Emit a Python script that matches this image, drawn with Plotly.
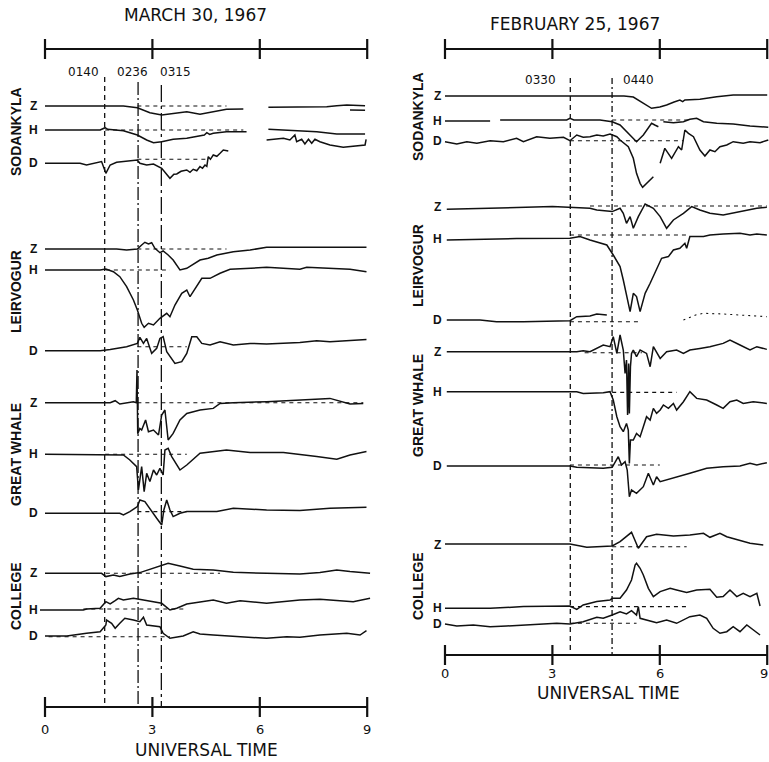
import plotly.graph_objects as go

# ------------------------------------------------------------------
# DATA  (hours UT, deflection in plot units; + = upward on the record)
# ------------------------------------------------------------------
TICK_HOURS = [0, 3, 6, 9]
TICK_LABELS = ["0", "3", "6", "9"]

MAR_TITLE = "MARCH 30, 1967"
FEB_TITLE = "FEBRUARY 25, 1967"
AXIS_TITLE = "UNIVERSAL TIME"

STATIONS = ["SODANKYLA", "LEIRVOGUR", "GREAT WHALE", "COLLEGE"]
COMPONENTS = ["Z", "H", "D"]

MAR_EVENT_T = [1.667, 2.6, 3.25]
MAR_EVENT_LABEL = ["0140", "0236", "0315"]
FEB_EVENT_T = [3.5, 4.667]
FEB_EVENT_LABEL = ["0330", "0440"]

# ---- March 30, 1967 ----
MAR_SOD_Z_T = [0, 2.19, 2.58, 2.93, 3.26, 3.58, 3.96, 4.33, 4.70, 5.07, 5.54, None, 6.24, 7.0, 7.87, 8.15, 8.43, 8.94, None, 8.52, 8.94]
MAR_SOD_Z_V = [0, 0, -1.7, -6.7, -9, -7.3, -5.7, -8.3, -5.7, -3.3, -3, None, -1.3, -1.0, -0.7, 0.3, 1.0, 0.3, None, -4, -4.3]
MAR_SOD_H_T = [0, 1.54, 1.68, 1.75, 2.19, 2.58, 2.84, 3.03, 3.26, 3.58, 3.96, 4.33, 4.45, 4.52, 4.60, 4.70, 5.07, 5.63, None, 6.24, 6.66, 7.12, 7.59, 8.15, 8.94]
MAR_SOD_H_V = [0, 0, 2.3, 0.7, -0.7, -5, -10, -12.7, -11.7, -9.3, -8.3, -6, -5, -2.7, -4.5, -3.3, -1.7, -1.7, None, 0.7, 0, -1, -1.7, -4, -4]
MAR_SOD_D_T = [0, 0.98, 1.16, 1.35, 1.58, 1.70, 1.82, 2.0, 2.47, 2.58, 2.65, 2.84, 3.03, 3.26, 3.49, 3.60, 3.68, 3.80, 3.96, 4.05,
               4.14, 4.24, 4.33, 4.40, 4.47, 4.52, 4.56, 4.62, 4.70, 4.80, 4.89, 4.98, 5.12, None,
               6.19, 6.38, 6.66, 6.84, 6.98, 7.03, 7.17, 7.26, 7.36, 7.45, 7.54, 7.68, 7.96, 8.33, 8.71, 8.94, 8.97]
MAR_SOD_D_V = [0, 0, -1.7, 0, 1.7, -10, -1.7, 1, 2.3, 3.3, 0, -1.7, -0.7, -5, -15, -11, -10.7, -8, -6.7, -9,
               -6, -7.5, -3.3, -5, -1.7, -3, 6.7, 4, 8.3, 7, 10, 13.3, 12.3, None,
               23.3, 24, 25, 23.3, 28.3, 21.6, 24, 19.3, 24, 20, 24, 21.6, 18.3, 16, 17.3, 18.3, 24]

MAR_LEI_Z_T = [0, 2.0, 2.28, 2.58, 2.70, 2.79, 2.89, 2.98, 3.07, 3.21, 3.30, 3.44, 3.58, 3.77, 3.96, 4.10, 4.33, 4.56, 4.80, 5.26, 5.73, 6.19, 7.12, 8.98]
MAR_LEI_Z_V = [0, 0, -1, 0, 4, 6.7, 5, 6.3, 0.7, -3.7, -2, -6, -11, -21, -19.3, -16, -11, -9.3, -6, -2.7, -1, 1.7, 1.7, 1.7]
MAR_LEI_H_T = [0, 1.54, 1.70, 1.91, 2.09, 2.28, 2.47, 2.58, 2.70, 2.77, 2.89, 3.03, 3.21, 3.40, 3.49, 3.63, 3.82, 3.96, 4.05, 4.19,
               4.38, 4.61, 4.89, 5.17, 5.73, 6.19, 7.12, 7.31, 8.52, 8.98]
MAR_LEI_H_V = [0, 0, 1, -1.7, -6.7, -16.7, -30, -40, -53.3, -57.3, -53.3, -55, -48.3, -43.3, -46.7, -35, -23.3, -20, -26.7, -18.3,
               -8.3, -8.3, -3.3, 0.7, 1.7, 2.7, 0.7, 2.7, 0.7, -1.7]
MAR_LEI_D_T = [0, 1.54, 1.82, 2.28, 2.58, 2.65, 2.75, 2.84, 2.98, 3.12, 3.21, 3.30, 3.40, 3.49, 3.63, 3.82, 3.96, 4.10, 4.24, 4.38,
               4.61, 4.89, 5.26, 5.73, 6.19, 7.12, 7.59, 7.96, 8.98]
MAR_LEI_D_V = [0, 0, 1.3, 4, 7.3, 13.3, 7.3, 12.3, -2.7, 2.3, 12.3, 14, -1, -6, -12.7, -11, -2.7, 14, 14, 7.3,
               5.7, 9, 5.7, 7.3, 6.7, 8.3, 10, 9, 11.3]

MAR_GW_Z_T = [0, 1.82, 1.96, 2.09, 2.47, 2.55, 2.57, 2.59, 2.65, 2.70, 2.81, 2.89, 3.03, 3.17, 3.26, 3.35, 3.44, 3.58, 3.77, 3.96,
              4.33, 4.70, 4.89, 5.26, 6.19, 7.12, 7.96, 8.52, 8.89]
MAR_GW_Z_V = [0, 0, 2, -1.3, 1, 0, 32.7, -31, -25.7, -27.3, -17.3, -29, -27.3, -32.3, -12.3, -7.3, -37.3, -30.7, -17.3, -10.7,
              -7.3, -5.7, -0.7, 0, 1, 2.7, 4.3, -1.3, -0.7]
MAR_GW_H_T = [0, 1.91, 2.19, 2.37, 2.56, 2.61, 2.70, 2.77, 2.84, 2.93, 3.03, 3.12, 3.21, 3.30, 3.35, 3.44, 3.54, 3.77, 3.96, 4.33,
              5.07, 5.73, 6.66, 7.59, 8.15, 8.52, 8.98]
MAR_GW_H_V = [0, 0, -0.7, -5.7, -12.3, -35.7, -12.3, -37.3, -19, -27.3, -15.7, -20.7, -14, -20.7, 4.3, 6, -2.3, -15.7, -10.7, 1,
              4.3, 1.7, 1.7, -2.3, -5, -0.7, 2.7]
MAR_GW_D_T = [0, 2.09, 2.19, 2.37, 2.58, 2.65, 2.79, 2.98, 3.12, 3.26, 3.32, 3.40, 3.49, 3.58, 3.77, 3.96, 4.33, 4.80, 5.26, 6.19,
              7.12, 7.96, 8.98]
MAR_GW_D_V = [0, 0, -1.7, 1.7, 6.7, 13.3, 11.7, 1.7, -5, -11.7, 3.3, 13.3, 3.3, -3.3, 0, 1.7, 1.7, 1.7, 5, 3.3,
              2.7, 5, 6]

MAR_COL_Z_T = [0, 1.58, 1.70, 1.91, 2.09, 2.37, 2.65, 3.03, 3.44, 3.77, 4.14, 4.70, 5.26, 6.19, 7.12, 7.68, 8.15, 8.52, 9.08]
MAR_COL_Z_V = [0, 0, -3.3, -1.7, -3.3, -0.7, 0.7, 5, 10, 7.3, 4, 3.3, 1, 0, -0.7, 0.7, 3.3, 1.7, 0]
MAR_COL_H_T = [-0.14, 1.07, 1.16, 1.54, 1.70, 1.82, 1.96, 2.05, 2.19, 2.47, 2.75, 3.03, 3.26, 3.49, 3.68, 3.96, 4.33, 4.70, 5.07, 5.45,
               6.19, 7.12, 7.68, 8.61, 9.08]
MAR_COL_H_V = [0, 0, 1, 1.7, 8.3, 6, 9.3, 11.7, 10, 11.7, 10, 8.3, 6.7, 0, 1.7, 6, 8.3, 10, 6.7, 9.3,
               6.7, 10, 10.7, 8.3, 11.7]
MAR_COL_D_T = [0, 0.61, 1.16, 1.54, 1.70, 1.72, 1.86, 1.96, 2.09, 2.23, 2.47, 2.65, 2.75, 2.84, 3.21, 3.30, 3.49, 3.86, 4.14, 4.33,
               4.70, 5.26, 6.01, 6.19, 6.75, 7.12, 7.68, 8.43, 8.80, 8.98]
MAR_COL_D_V = [0, 0, 2.7, 4.3, 11, 16, 12.7, 7.7, 12.7, 17.7, 16, 14.3, 18.7, 11, 9.3, 2.7, -2.3, 0, 4.3, 2,
               1, 0, -1.3, -2.3, -0.7, -1.3, 1, 2.7, 1, 5.3]

# reference (quiet-level) dashes: station, component, t0, t1, level
MAR_REF_STATION = ["SODANKYLA", "SODANKYLA", "SODANKYLA", "LEIRVOGUR", "LEIRVOGUR", "LEIRVOGUR",
                   "GREAT WHALE", "GREAT WHALE", "GREAT WHALE", "COLLEGE", "COLLEGE", "COLLEGE"]
MAR_REF_COMP = ["Z", "H", "D", "Z", "H", "D", "Z", "H", "D", "Z", "H", "D"]
MAR_REF_T0 = [2.58, 1.68, 2.58, 2.58, 1.70, 2.58, 2.58, 1.68, 2.58, 1.70, 1.07, 0.1]
MAR_REF_T1 = [5.07, 5.54, 4.52, 5.07, 3.49, 3.96, 8.89, 3.96, 3.96, 4.89, 3.96, 3.49]
MAR_REF_V = [0, 0, 4, 0, 0, 4, 0, 0, 1.7, 0, 1, -0.7]

# ---- February 25, 1967 ----
FEB_SOD_Z_T = [0, 4.5, 5.0, 5.26, 5.45, 5.77, 6.0, 6.19, 6.4, 6.56, 6.64, 6.7, 7.12, 7.59, 8.05, 9.0]
FEB_SOD_Z_V = [0, 0, 0, -1, -5, -12.3, -11, -9, -6, -4, -5.7, -4, -3.3, -0.7, 1, 1]
FEB_SOD_H_T = [0, 1.26, None, 1.54, 3.40, 3.49, 3.60, 4.33, 4.67, 4.89, 5.17, 5.35, 5.54, 5.77, 5.86, 5.96, None,
               6.10, 6.38, 6.66, 6.84, 7.03, 7.22, 7.59, 8.05, 8.52, 9.03]
FEB_SOD_H_V = [0, 0, None, 1, 1, 2.7, 1, 1, -0.7, -4, -14, -20.7, -14, -2.3, -4, -5.7, None,
               -0.7, -1.7, -0.7, 1.7, 2.7, -0.7, -2.3, -3, -5, -6.3]
FEB_SOD_D_T = [0, 0.33, 0.61, 0.89, 1.26, 1.63, 2.0, 2.19, 2.56, 2.93, 3.31, 3.49, 3.68, 3.86, 4.05, 4.24, 4.42, 4.61, 4.80, 4.89,
               5.12, 5.26, 5.35, 5.45, 5.52, 5.63, 5.82, None, 6.01, 6.14, 6.33, 6.52, 6.61, 6.70, 6.80, 6.94, 7.12, 7.26, 7.40, 7.54,
               7.68, 7.87, 8.05, 8.33, 8.52, 8.80, 9.03]
FEB_SOD_D_V = [-0.7, -3, -0.7, -2.3, 0.3, -0.7, 2.7, -0.7, 4.3, 2.7, 3.7, 0.3, 6, 3.7, 4.3, 6, 5, 7, 4.3, 1,
               -5.7, -17.3, -32.3, -42.3, -46.3, -42.3, -35.7, None, -22.3, -7.3, -17.3, -5.7, -9, 11, 7.7, 4.3, -9, -15, -9, -10.7,
               -5.7, -4, -0.7, -2.3, -0.7, -1.7, 1]

FEB_LEI_Z_T = [0.05, 1.5, 3.0, 4.05, 4.24, 4.67, 4.89, 4.98, 5.07, 5.17, 5.26, 5.40, 5.59, 5.82, 6.01, 6.19, 6.38, 6.66, 6.89, 7.12,
               7.40, 7.77, 8.24, 8.71, 8.99]
FEB_LEI_Z_V = [-2, -0.7, 0.7, -1, -2.7, -4.3, -1, -6, -16, -9.3, -21, -9.3, 3.3, -1, -9.3, -21, -12.7, -6, 0.7, -2.7,
               -6, -7.7, -4.3, -1, 0]
FEB_LEI_H_T = [0.05, 2.0, 3.49, 3.77, 4.05, 4.33, 4.52, 4.70, 4.89, 4.98, 5.07, 5.17, 5.26, 5.35, 5.45, 5.59, 5.73, 5.91, 6.05, 6.24,
               6.38, 6.56, 6.70, 6.75, 6.84, 7.22, 7.40, 7.77, 8.24, 8.52, 8.71, 8.99]
FEB_LEI_H_V = [-0.7, 0.7, 1, 2.7, -0.7, -4, -5.7, -15.7, -27.3, -40.7, -57.3, -72.3, -54, -57.3, -72.3, -54, -44, -30.7, -19, -17.3,
               -10.7, -9, -4, -9, 2.7, 2.7, 4.3, 5.3, 6, 4.3, 5.3, 4.3]
FEB_LEI_D_T = [0.05, 0.98, 1.44, 2.19, 3.49, 3.68, 4.05, 4.24, 4.52]
FEB_LEI_D_V = [0, 0, -1.7, -1.7, -0.7, 3.3, 4, 6, 5]
FEB_LEI_D2_T = [6.66, 7.0, 7.22, 7.77, 8.99]          # faint dotted continuation
FEB_LEI_D2_V = [0, 5, 6.7, 6, 3.3]

FEB_GW_Z_T = [0.05, 3.68, 3.86, 4.05, 4.42, 4.61, 4.70, 4.80, 4.89, 4.98, 5.03, 5.07, 5.10, 5.13, 5.15, 5.18, 5.21, 5.26, 5.35, 5.45,
              5.63, 5.73, 5.82, 6.01, 6.19, 6.47, 6.66, 6.84, 7.12, 7.40, 7.77, 7.96, 8.24, 8.52, 8.71, 8.99]
FEB_GW_Z_V = [0, 0, 1, 0, 6.7, 5, 15, -1.7, 16.7, 1.7, -21.7, -8.3, -63.3, -11.7, -61.7, -15, -1.7, 1.7, -5, 1.7,
              -1.7, -15, 5, -6.7, 0, 1.7, -1.7, 1.7, 3.3, 5, 8.3, 11.7, 6.7, 1.7, 5, 2.3]
FEB_GW_H_T = [0.05, 3.68, 3.86, 4.42, 4.61, 4.70, 4.80, 4.89, 4.98, 5.07, 5.12, 5.15, 5.18, 5.26, 5.35, 5.45, 5.54, 5.63, 5.73, 5.82,
              5.91, 6.01, 6.10, 6.24, 6.38, 6.47, 6.66, 6.84, 7.03, 7.31, 7.59, 7.77, 7.96, 8.15, 8.33, 8.61, 8.99]
FEB_GW_H_V = [0, 0, -1.7, -1, 0, -8.3, -25, -35, -40, -31.7, -38.3, -71.7, -48.3, -48.3, -41.7, -45, -35, -25, -28.3, -16.7,
              -21.7, -18.3, -13.3, -16.7, -11.7, -18.3, -10, 0, -6.7, -8.3, -13.3, -16.7, -10, -8.3, -11.7, -10, -11.7]
FEB_GW_D_T = [0.05, 3.49, 3.68, 4.42, 4.67, 4.75, 4.84, 4.93, 5.03, 5.09, 5.15, 5.21, 5.35, 5.54, 5.68, 5.82, 5.91, 6.01, 6.19, 6.47,
              6.84, 7.31, 7.77, 8.24, 8.52, 8.71, 8.99]
FEB_GW_D_V = [0, 0, -1.3, -2.3, -1.3, 4.3, 9.3, 1, 4.3, -4, -30.7, -24, -27.3, -20.7, -7.3, -19, -10.7, -15.7, -14, -10.7,
              -7.3, -2.3, -0.7, 0, 2.7, 1, 3.3]

FEB_COL_Z_T = [0, 3.49, 3.96, 4.42, 4.67, 4.89, 5.21, 5.40, 5.63, 5.91, 6.38, 6.84, 7.22, 7.40, 7.68, 7.87, 8.24, 8.52, 8.89]
FEB_COL_Z_V = [1, 1, -2.3, -1.7, -1, 3.3, 12.7, -3.3, 8.3, 10.7, 9, 10, 11.7, 7.7, 11.7, 8.3, 4.3, 1.7, 0]
FEB_COL_H_T = [0, 1.26, 2.19, 2.93, 3.49, 3.68, 3.86, 4.24, 4.61, 4.67, 4.89, 5.07, 5.21, 5.31, 5.35, 5.45, 5.54, 5.68, 5.82, 6.01,
               6.29, 6.47, 6.75, 7.03, 7.40, 7.59, 7.77, 7.96, 8.15, 8.33, 8.52, 8.71, 8.80]
FEB_COL_H_V = [0, 0, 1.7, 1.7, 2.3, -1, 3.3, 6.7, 8.3, 10, 10, 18.3, 28.3, 43.3, 45, 40, 33.3, 20, 11.7, 16.7,
               20, 18.3, 15.7, 18.3, 19, 11, 11.7, 18.3, 11.7, 15, 11.7, 15, 2.3]
FEB_COL_D_T = [0, 0.33, 0.79, 1.26, 1.72, 2.19, 2.65, 3.12, 3.49, 3.86, 4.24, 4.42, 4.67, 4.89, 5.07, 5.21, 5.35, 5.40, 5.45, 5.63,
               5.91, 6.19, 6.47, 6.84, 7.12, 7.31, 7.49, 7.68, 7.87, 8.05, 8.24, 8.43, 8.61, 8.80]
FEB_COL_D_V = [0, -2, -1, -2.7, -2, -1, 0, 0.7, 0, 2.3, 6.7, 5.7, 9, 12.3, 10, 13.3, 9, 17.3, 5.7, 4,
               1.3, 4, 0.7, 7.3, 9, 5.7, -4.3, -9.3, -7.7, -2.7, -7.7, -1, -6, -11]

FEB_REF_STATION = ["SODANKYLA", "SODANKYLA", "LEIRVOGUR", "LEIRVOGUR", "LEIRVOGUR",
                   "GREAT WHALE", "GREAT WHALE", "GREAT WHALE", "COLLEGE", "COLLEGE", "COLLEGE"]
FEB_REF_COMP = ["H", "D", "Z", "H", "D", "Z", "H", "D", "Z", "H", "D"]
FEB_REF_T0 = [4.67, 3.49, 4.05, 3.49, 3.49, 3.9, 4.67, 3.49, 4.67, 3.49, 3.49]
FEB_REF_T1 = [6.84, 6.66, 8.99, 6.84, 5.45, 5.5, 6.47, 6.0, 6.75, 6.84, 5.35]
FEB_REF_V = [1, 0.3, 1.3, 4.3, -1.7, -1, -0.7, 1, -1.7, 1.7, 0.7]

# ------------------------------------------------------------------
# LAYOUT (positions on the page, pixels)
# ------------------------------------------------------------------
W, H = 769, 762
SPLIT = 390

MAR_SERIES = {
    ("SODANKYLA", "Z"): (MAR_SOD_Z_T, MAR_SOD_Z_V), ("SODANKYLA", "H"): (MAR_SOD_H_T, MAR_SOD_H_V),
    ("SODANKYLA", "D"): (MAR_SOD_D_T, MAR_SOD_D_V),
    ("LEIRVOGUR", "Z"): (MAR_LEI_Z_T, MAR_LEI_Z_V), ("LEIRVOGUR", "H"): (MAR_LEI_H_T, MAR_LEI_H_V),
    ("LEIRVOGUR", "D"): (MAR_LEI_D_T, MAR_LEI_D_V),
    ("GREAT WHALE", "Z"): (MAR_GW_Z_T, MAR_GW_Z_V), ("GREAT WHALE", "H"): (MAR_GW_H_T, MAR_GW_H_V),
    ("GREAT WHALE", "D"): (MAR_GW_D_T, MAR_GW_D_V),
    ("COLLEGE", "Z"): (MAR_COL_Z_T, MAR_COL_Z_V), ("COLLEGE", "H"): (MAR_COL_H_T, MAR_COL_H_V),
    ("COLLEGE", "D"): (MAR_COL_D_T, MAR_COL_D_V),
}
FEB_SERIES = {
    ("SODANKYLA", "Z"): (FEB_SOD_Z_T, FEB_SOD_Z_V), ("SODANKYLA", "H"): (FEB_SOD_H_T, FEB_SOD_H_V),
    ("SODANKYLA", "D"): (FEB_SOD_D_T, FEB_SOD_D_V),
    ("LEIRVOGUR", "Z"): (FEB_LEI_Z_T, FEB_LEI_Z_V), ("LEIRVOGUR", "H"): (FEB_LEI_H_T, FEB_LEI_H_V),
    ("LEIRVOGUR", "D"): (FEB_LEI_D_T, FEB_LEI_D_V),
    ("GREAT WHALE", "Z"): (FEB_GW_Z_T, FEB_GW_Z_V), ("GREAT WHALE", "H"): (FEB_GW_H_T, FEB_GW_H_V),
    ("GREAT WHALE", "D"): (FEB_GW_D_T, FEB_GW_D_V),
    ("COLLEGE", "Z"): (FEB_COL_Z_T, FEB_COL_Z_V), ("COLLEGE", "H"): (FEB_COL_H_T, FEB_COL_H_V),
    ("COLLEGE", "D"): (FEB_COL_D_T, FEB_COL_D_V),
}

# baseline pixel rows for each station's Z, H, D trace
MAR_BASE = {"SODANKYLA": (106, 130, 163.3), "LEIRVOGUR": (249, 270, 350.7),
            "GREAT WHALE": (402.7, 454.3, 513.3), "COLLEGE": (573.3, 610, 636)}
FEB_BASE = {"SODANKYLA": (96, 121, 141), "LEIRVOGUR": (207.3, 239.3, 320),
            "GREAT WHALE": (351.7, 391.7, 466), "COLLEGE": (545, 608.3, 624)}
MAR_STATION_Y = {"SODANKYLA": 132, "LEIRVOGUR": 292, "GREAT WHALE": 455, "COLLEGE": 596}
FEB_STATION_Y = {"SODANKYLA": 117, "LEIRVOGUR": 266, "GREAT WHALE": 406, "COLLEGE": 586}

PANELS = [
    dict(xa="x", series=MAR_SERIES, base=MAR_BASE, st_y=MAR_STATION_Y, st_x=16, comp_x=33,
         refs=(MAR_REF_STATION, MAR_REF_COMP, MAR_REF_T0, MAR_REF_T1, MAR_REF_V),
         ev_t=MAR_EVENT_T, ev_lab=MAR_EVENT_LABEL, ev_top=[77, 82, 85], ev_bot=707,
         ev_dash=["5px,4px", "13px,3px,2px,3px", "17px,4px,3px,4px"],
         ev_lab_x=[83, 132, 175], ev_lab_y=72,
         top_axis=49, bot_axis=707, tick_lab_y=729,
         title=MAR_TITLE, title_xy=(195, 15), ut_xy=(206, 750)),
    dict(xa="x2", series=FEB_SERIES, base=FEB_BASE, st_y=FEB_STATION_Y, st_x=418, comp_x=437,
         refs=(FEB_REF_STATION, FEB_REF_COMP, FEB_REF_T0, FEB_REF_T1, FEB_REF_V),
         ev_t=FEB_EVENT_T, ev_lab=FEB_EVENT_LABEL, ev_top=[78, 78], ev_bot=655,
         ev_dash=["5px,4px", "6px,3px,2px,3px"],
         ev_lab_x=[540, 638], ev_lab_y=80,
         top_axis=49, bot_axis=655, tick_lab_y=673,
         title=FEB_TITLE, title_xy=(575, 24), ut_xy=(608, 693)),
]

INK = "#111111"
fig = go.Figure()


def add_line(xa, xs, ys, width=1.4, dash="solid"):
    fig.add_trace(go.Scatter(x=xs, y=ys, xaxis=xa, yaxis="y", mode="lines",
                             line=dict(color=INK, width=width, dash=dash),
                             connectgaps=False, hoverinfo="skip", showlegend=False))


def px_note(x, y, text, size, family="DejaVu Sans", angle=0, bold=False):
    fig.add_annotation(x=x / W, y=1 - y / H, xref="paper", yref="paper", text=f"<b>{text}</b>" if bold else text,
                       showarrow=False, xanchor="center", yanchor="middle", textangle=angle,
                       font=dict(family=family, size=size, color=INK))


for p in PANELS:
    xa = p["xa"]
    # magnetogram traces
    for (st, comp), (ts, vs) in p["series"].items():
        assert len(ts) == len(vs), (st, comp)
        b = p["base"][st][COMPONENTS.index(comp)]
        add_line(xa, ts, [None if v is None else b - v for v in vs], width=1.5)
    # quiet-level dashes
    rs, rc, r0, r1, rv = p["refs"]
    for st, comp, t0, t1, v in zip(rs, rc, r0, r1, rv):
        b = p["base"][st][COMPONENTS.index(comp)]
        add_line(xa, [t0, t1], [b - v, b - v], width=1.1, dash="4px,4px")
    # event time lines
    for t, top, dash in zip(p["ev_t"], p["ev_top"], p["ev_dash"]):
        add_line(xa, [t, t], [top, p["ev_bot"]], width=1.3, dash=dash)
    # time axes (top and bottom) with crossing ticks
    for ya in (p["top_axis"], p["bot_axis"]):
        xs, ys = [TICK_HOURS[0], TICK_HOURS[-1]], [ya, ya]
        for t in TICK_HOURS:
            xs += [None, t, t]
            ys += [None, ya - 10, ya + 10]
        add_line(xa, xs, ys, width=2.2)
    # tick labels on the bottom axis
    for t, lab in zip(TICK_HOURS, TICK_LABELS):
        edge = (xa == "x2" and t == TICK_HOURS[-1])
        fig.add_annotation(x=t, y=p["tick_lab_y"], xref=xa, yref="y", text=lab, showarrow=False,
                           xanchor="right" if edge else "center", xshift=3 if edge else 0, yanchor="middle",
                           font=dict(family="DejaVu Sans", size=13, color=INK))
    # text
    px_note(*p["title_xy"], p["title"], 17)
    px_note(*p["ut_xy"], AXIS_TITLE, 17)
    for lab, lx in zip(p["ev_lab"], p["ev_lab_x"]):
        px_note(lx, p["ev_lab_y"], lab, 12)
    for st in STATIONS:
        px_note(p["st_x"], p["st_y"][st], st, 14, family="Liberation Sans", angle=-90, bold=True)
        for comp, b in zip(COMPONENTS, p["base"][st]):
            px_note(p["comp_x"], b, comp, 12, family="Liberation Sans", bold=True)

# faint dotted continuation of the Leirvogur D record (Feb 25)
add_line("x2", FEB_LEI_D2_T, [FEB_BASE["LEIRVOGUR"][2] - v for v in FEB_LEI_D2_V], width=1.1, dash="2px,4px")

fig.update_layout(
    width=W, height=H, margin=dict(l=0, r=0, t=0, b=0),
    paper_bgcolor="white", plot_bgcolor="white", showlegend=False,
    xaxis=dict(domain=[0, SPLIT / W], range=[-1.257, 9.637], visible=False, anchor="y", fixedrange=True),
    xaxis2=dict(domain=[SPLIT / W, 1], range=[-1.536, 9.05], visible=False, anchor="y", fixedrange=True),
    yaxis=dict(domain=[0, 1], range=[H, 0], visible=False, anchor="x", fixedrange=True),
)

fig.write_html("out.html", config={"displayModeBar": False, "staticPlot": True},
               post_script="document.body.style.margin='0';document.body.style.overflow='hidden';")
